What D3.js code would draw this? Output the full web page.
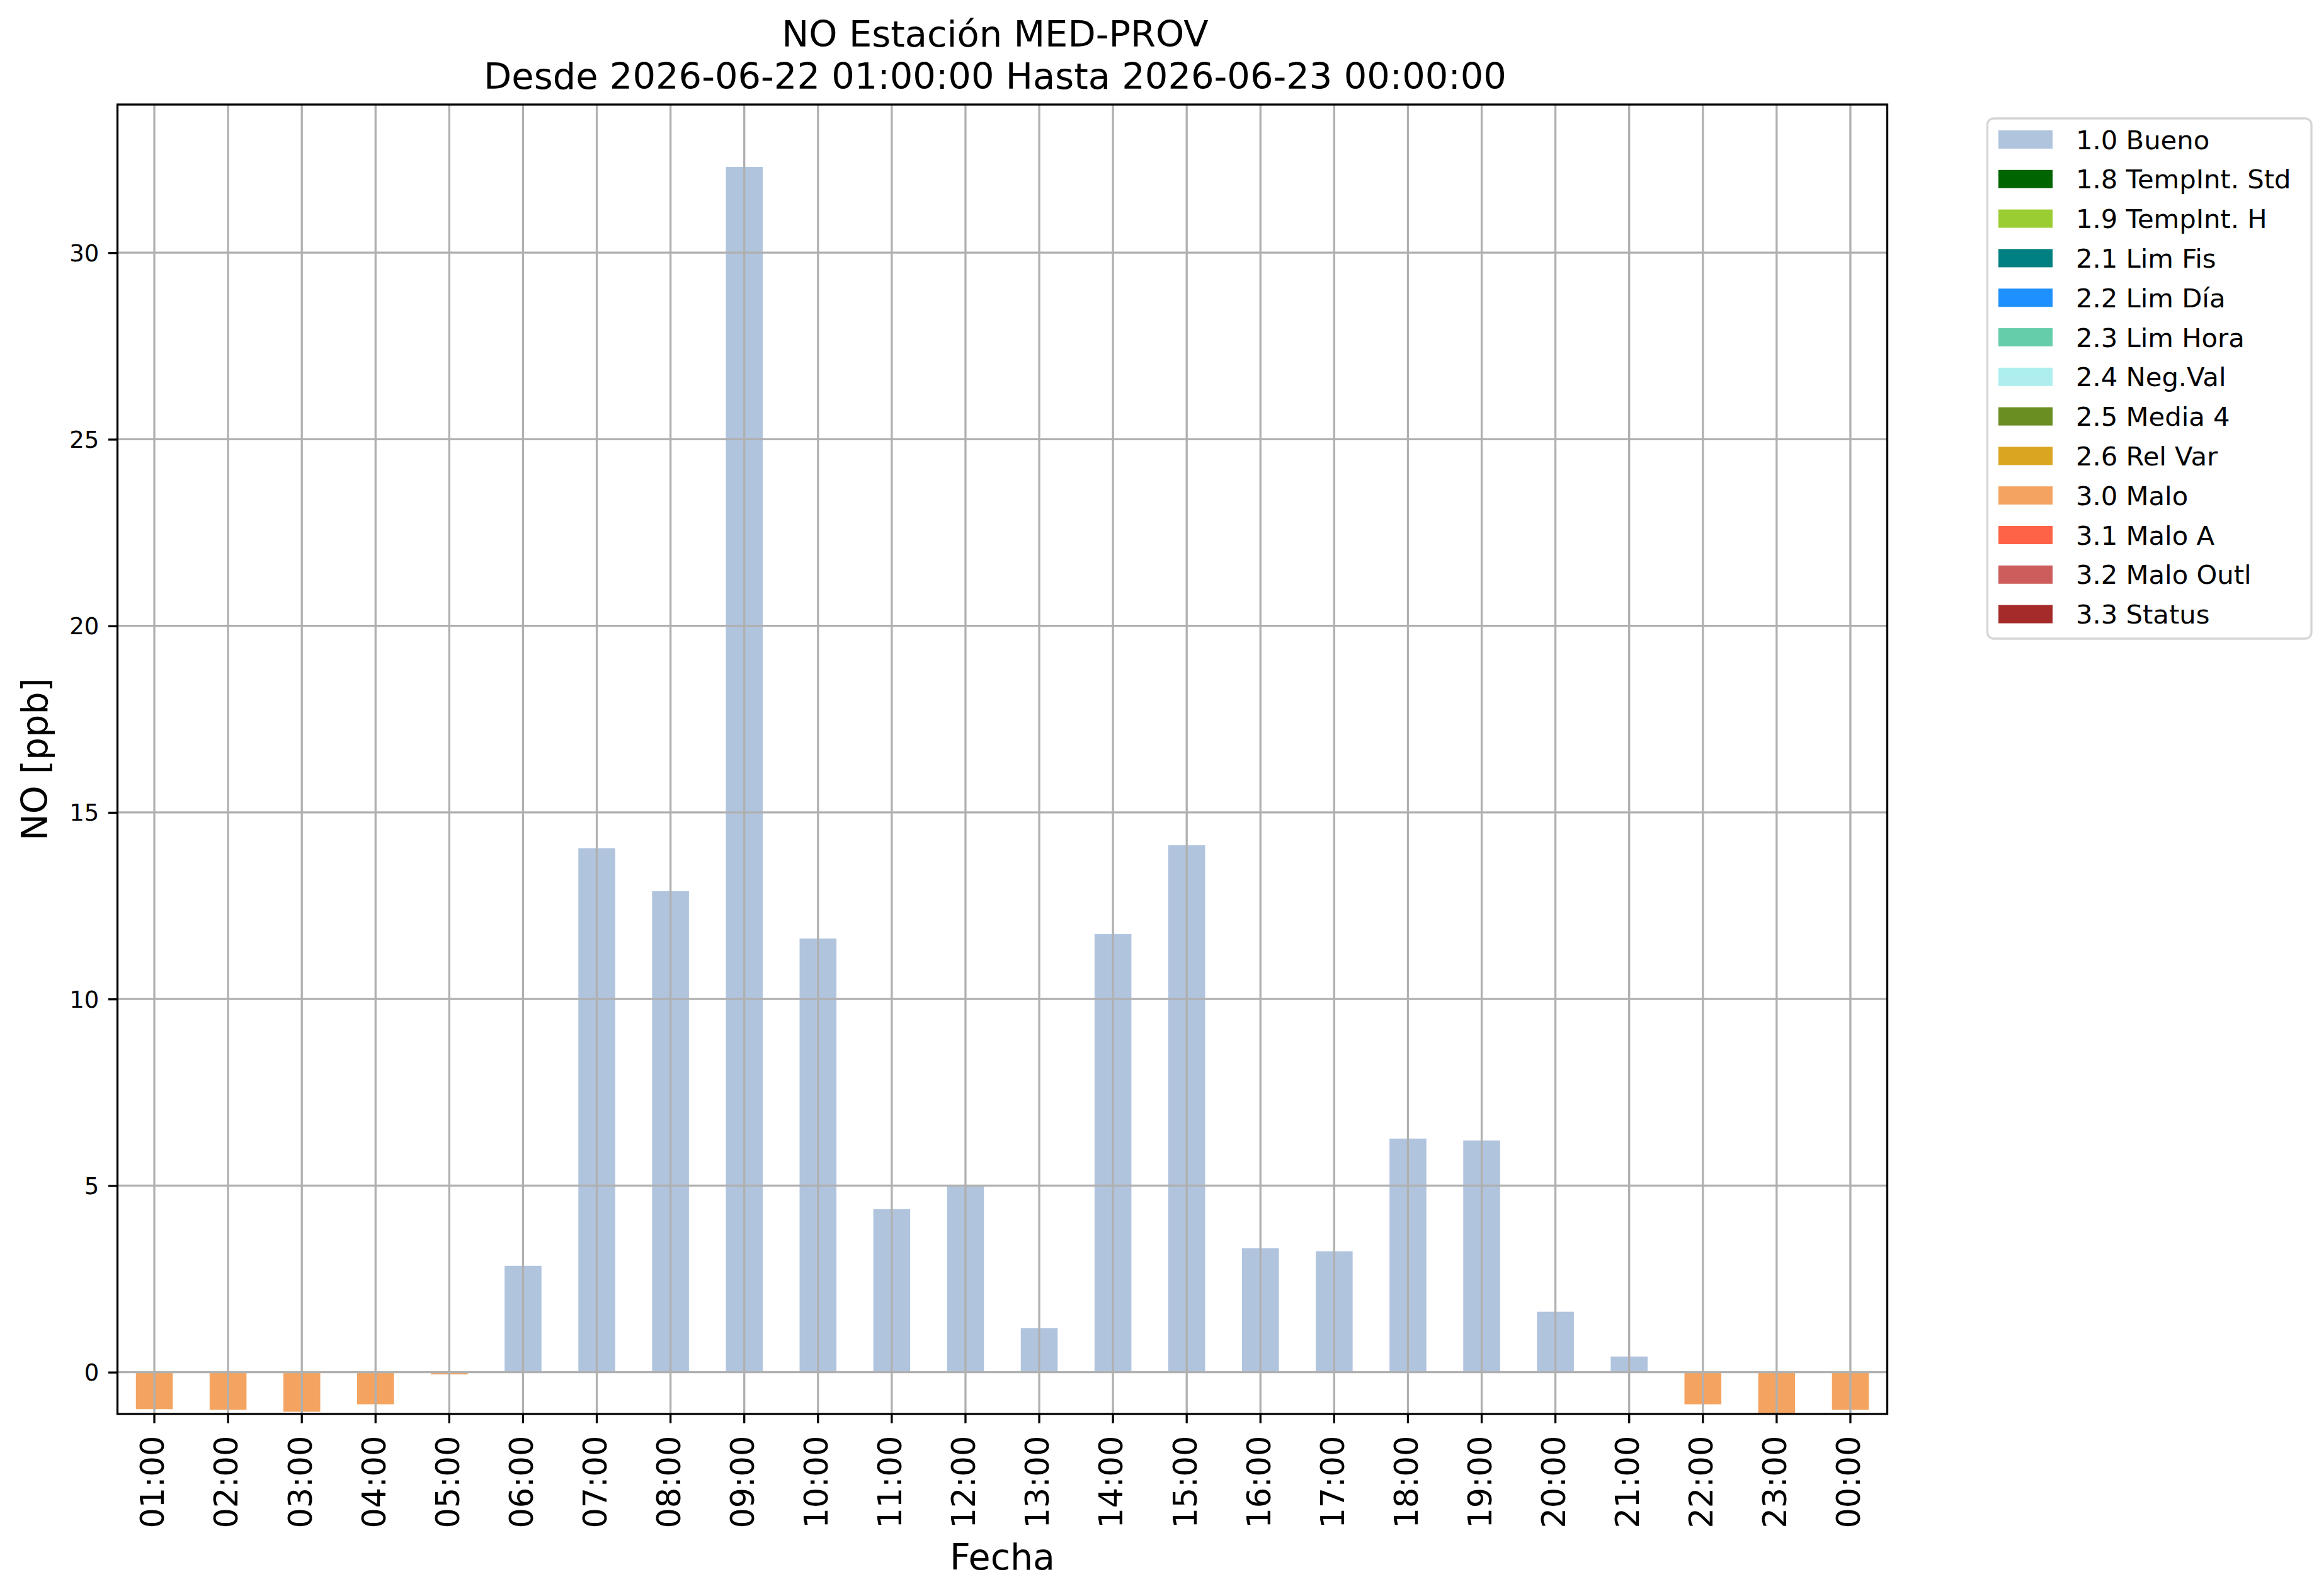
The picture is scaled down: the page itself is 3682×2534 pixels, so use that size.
<!DOCTYPE html>
<html>
<head>
<meta charset="utf-8">
<script src="https://cdn.jsdelivr.net/npm/d3@7"></script>
<style>
  html, body { margin: 0; padding: 0; background: #ffffff; }
  svg { display: block; font-family: "DejaVu Sans", sans-serif; }
</style>
</head>
<body>
<svg id="chart" width="3682" height="2534"></svg>
<script>
// ---- data ----
const hours = ["01:00","02:00","03:00","04:00","05:00","06:00","07:00","08:00","09:00","10:00","11:00","12:00",
               "13:00","14:00","15:00","16:00","17:00","18:00","19:00","20:00","21:00","22:00","23:00","00:00"];
// 1.0 Bueno values (null = no value at that hour)
const bueno = [null,null,null,null,null,2.85,14.04,12.89,32.30,11.62,4.37,4.99,
               1.18,11.74,14.12,3.32,3.24,6.26,6.21,1.62,0.42,null,null,null];
// 3.0 Malo values
const malo  = [-0.99,-1.01,-1.06,-0.86,-0.06,null,null,null,null,null,null,null,
               null,null,null,null,null,null,null,null,null,-0.86,-1.10,-1.01];
const yTicks = [0,5,10,15,20,25,30];
const legendLabels = ["1.0 Bueno","1.8 TempInt. Std","1.9 TempInt. H","2.1 Lim Fis","2.2 Lim Día","2.3 Lim Hora",
                      "2.4 Neg.Val","2.5 Media 4","2.6 Rel Var","3.0 Malo","3.1 Malo A","3.2 Malo Outl","3.3 Status"];
const legendColors = ["#b0c4de","#006400","#9acd32","#008080","#1e90ff","#66cdaa",
                      "#afeeee","#6b8e23","#daa520","#f4a460","#ff6347","#cd5c5c","#a52a2a"];
const titleLines = ["NO Estación MED-PROV","Desde 2026-06-22 01:00:00 Hasta 2026-06-23 00:00:00"];
const xLabel = "Fecha";
const yLabel = "NO [ppb]";

// ---- layout ----
const L = 186.5, R = 2996.5, T = 166, B = 2245;
const lw = 3.3, tickLen = 14.6;
const svg = d3.select("#chart");

const x = d3.scaleBand().domain(hours).range([L, R]).paddingInner(0.5).paddingOuter(0.25);
const y = d3.scaleLinear().domain([-1.12, 33.97]).range([B, T]);
const xc = h => x(h) + x.bandwidth() / 2;

// bars
const series = [
  {vals: bueno, color: legendColors[0]},
  {vals: malo, color: legendColors[9]}
];
series.forEach(s => {
  const d = hours.map((h, i) => ({h, v: s.vals[i]})).filter(o => o.v !== null);
  svg.append("g").selectAll("rect").data(d).join("rect")
    .attr("x", o => x(o.h))
    .attr("width", x.bandwidth())
    .attr("y", o => y(Math.max(0, o.v)))
    .attr("height", o => Math.abs(y(o.v) - y(0)))
    .attr("fill", s.color);
});

// grid (drawn above bars, as in reference)
const grid = svg.append("g").attr("stroke", "#b0b0b0").attr("stroke-width", lw);
grid.selectAll("line.v").data(hours).join("line").attr("class","v")
  .attr("x1", xc).attr("x2", xc).attr("y1", T).attr("y2", B);
grid.selectAll("line.h").data(yTicks).join("line").attr("class","h")
  .attr("x1", L).attr("x2", R).attr("y1", d => y(d)).attr("y2", d => y(d));

// axes
const yAxis = svg.append("g").attr("transform", `translate(${L},0)`)
  .call(d3.axisLeft(y).tickValues(yTicks).tickSize(tickLen).tickPadding(tickLen).tickFormat(d3.format("d")));
yAxis.select(".domain").remove();
yAxis.selectAll("line").attr("stroke", "#000").attr("stroke-width", lw);
yAxis.selectAll("text").attr("font-size", 37).attr("font-family", "DejaVu Sans").attr("fill", "#000").attr("dy", "0.35em");

const xAxis = svg.append("g").attr("transform", `translate(0,${B})`)
  .call(d3.axisBottom(x).tickSize(tickLen).tickPadding(tickLen));
xAxis.select(".domain").remove();
xAxis.selectAll("line").attr("stroke", "#000").attr("stroke-width", lw);
xAxis.selectAll("text")
  .attr("font-size", 51).attr("font-family", "DejaVu Sans").attr("fill", "#000")
  .attr("transform", "rotate(-90)")
  .attr("text-anchor", "end")
  .attr("x", -(tickLen + 20))
  .attr("y", 0)
  .attr("dy", "0.3em");

// frame (spines)
svg.append("rect").attr("x", L).attr("y", T).attr("width", R - L).attr("height", B - T)
  .attr("fill", "none").attr("stroke", "#000").attr("stroke-width", lw);

// titles
svg.append("g").selectAll("text").data(titleLines).join("text")
  .attr("x", 1580).attr("y", (d, i) => 74 + i * 67)
  .attr("text-anchor", "middle").attr("font-size", 57.5).attr("fill", "#000")
  .text(d => d);

svg.append("text").attr("x", (L + R) / 2).attr("y", 2492)
  .attr("text-anchor", "middle").attr("font-size", 57).attr("fill", "#000").text(xLabel);

svg.append("text").attr("transform", `translate(75,${(T + B) / 2}) rotate(-90)`)
  .attr("text-anchor", "middle").attr("font-size", 57).attr("fill", "#000").text(yLabel);

// legend
const lg = svg.append("g");
lg.append("rect").attr("x", 3155.5).attr("y", 188).attr("width", 514.5).attr("height", 826)
  .attr("rx", 10).attr("fill", "#fff").attr("fill-opacity", 0.8)
  .attr("stroke", "#d5d5d5").attr("stroke-width", lw);
const items = lg.selectAll("g.item").data(legendLabels).join("g").attr("class", "item")
  .attr("transform", (d, i) => `translate(0,${221.5 + i * 62.8})`);
items.append("rect").attr("x", 3173).attr("y", -14.5).attr("width", 86).attr("height", 29)
  .attr("fill", (d, i) => legendColors[i]);
items.append("text").attr("x", 3296).attr("y", 0).attr("dy", "0.36em")
  .attr("font-size", 41.7).attr("fill", "#000").text(d => d);
</script>
</body>
</html>
